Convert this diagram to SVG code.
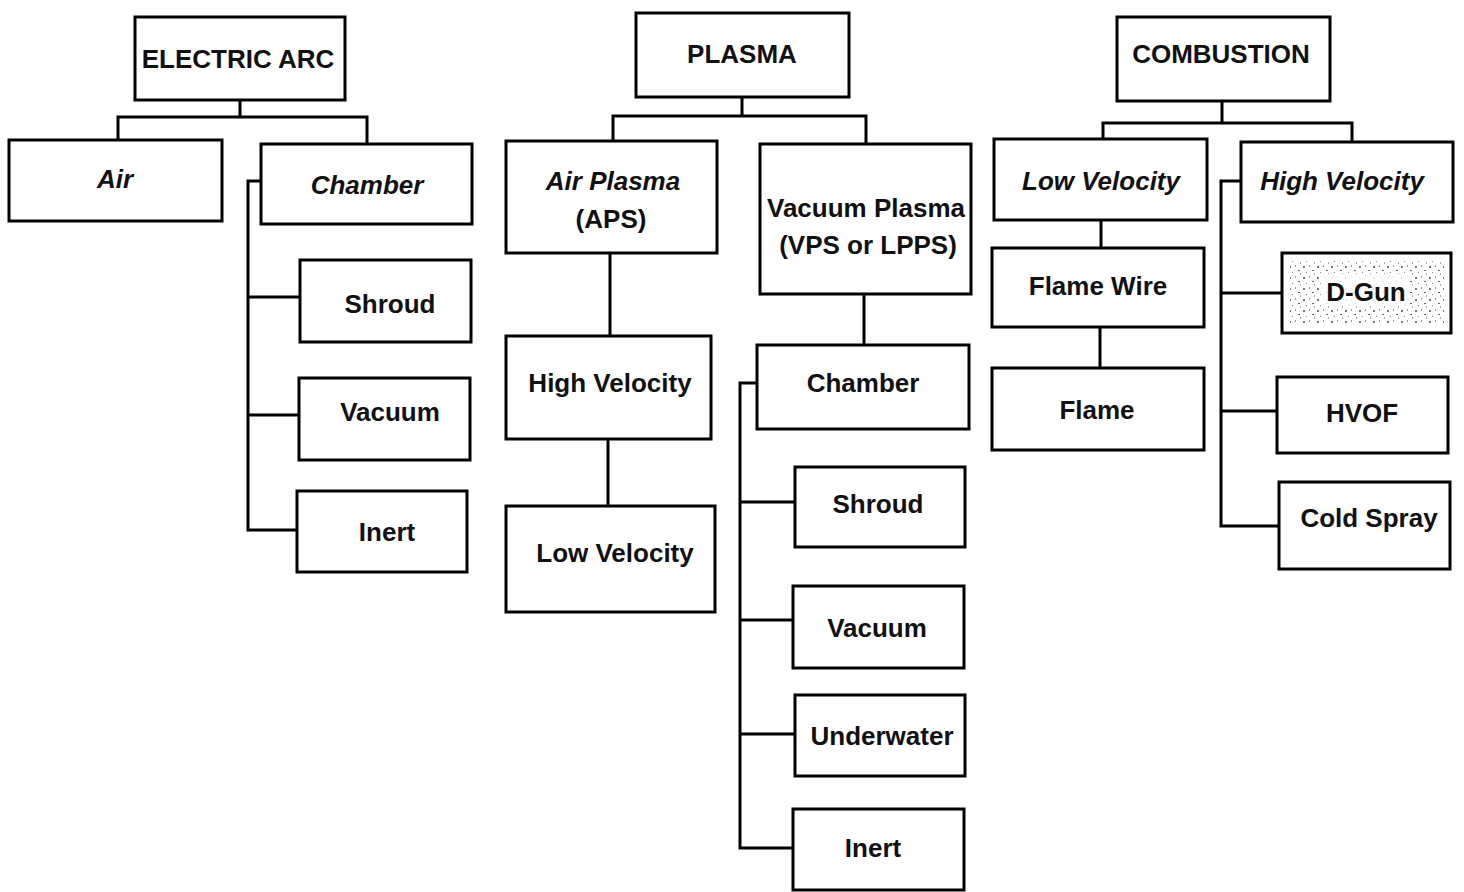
<svg xmlns="http://www.w3.org/2000/svg" width="1464" height="892" viewBox="0 0 1464 892">
<style>
.box{fill:#fff;stroke:#000;stroke-width:3}
.t{font-family:"Liberation Sans",Arial,sans-serif;font-weight:bold;font-size:26px;text-anchor:middle;fill:#111}
.i{font-style:italic}
.c{fill:none;stroke:#000;stroke-width:3}
</style>
<defs>
<pattern id="speck" width="14" height="11" patternUnits="userSpaceOnUse">
<rect x="1" y="2" width="2" height="2" fill="#777"/>
<rect x="7" y="1" width="1" height="2" fill="#999"/>
<rect x="10" y="6" width="2" height="1" fill="#666"/>
<rect x="4" y="8" width="1" height="1" fill="#888"/>
<rect x="12" y="9" width="1" height="2" fill="#aaa"/>
</pattern>
</defs>
<rect width="1464" height="892" fill="#fff"/>
<g id="connectors">
<path class="c" d="M240 100V117M118 140V117H367V144"/>
<path class="c" d="M261 181H248V530H297M248 297H300M248 415H299"/>
<path class="c" d="M742 97V116M613 141V116H866V144"/>
<path class="c" d="M610 253V336M608 439V506M864 294V345"/>
<path class="c" d="M757 383H740V848H793M740 502H795M740 620H793M740 734H795"/>
<path class="c" d="M1222 101V123M1103 139V123H1352V142"/>
<path class="c" d="M1101 220V248M1100 327V368"/>
<path class="c" d="M1241 181H1221V526H1279M1221 293H1282M1221 411H1277"/>
</g>
<g id="electric-arc"><rect class="box" x="135" y="17" width="210" height="83"/><text class="t" x="238" y="68">ELECTRIC ARC</text></g>
<g id="ea-air"><rect class="box" x="9" y="140" width="213" height="81"/><text class="t i" x="115" y="188">Air</text></g>
<g id="ea-chamber"><rect class="box" x="261" y="144" width="211" height="80"/><text class="t i" x="367" y="194">Chamber</text></g>
<g id="ea-shroud"><rect class="box" x="300" y="260" width="171" height="82"/><text class="t" x="390" y="313">Shroud</text></g>
<g id="ea-vacuum"><rect class="box" x="299" y="378" width="171" height="82"/><text class="t" x="390" y="421">Vacuum</text></g>
<g id="ea-inert"><rect class="box" x="297" y="491" width="170" height="81"/><text class="t" x="387" y="541">Inert</text></g>

<g id="plasma"><rect class="box" x="636" y="13" width="213" height="84"/><text class="t" x="742" y="63">PLASMA</text></g>
<g id="air-plasma"><rect class="box" x="506" y="141" width="211" height="112"/><text class="t i" x="613" y="190">Air Plasma</text><text class="t" x="611" y="228">(APS)</text></g>
<g id="vacuum-plasma"><rect class="box" x="760" y="144" width="211" height="150"/><text class="t" x="866" y="217">Vacuum Plasma</text><text class="t" x="868" y="254">(VPS or LPPS)</text></g>
<g id="pl-high-velocity"><rect class="box" x="506" y="336" width="205" height="103"/><text class="t" x="610" y="392">High Velocity</text></g>
<g id="pl-low-velocity"><rect class="box" x="506" y="506" width="209" height="106"/><text class="t" x="615" y="562">Low Velocity</text></g>
<g id="pl-chamber"><rect class="box" x="757" y="345" width="212" height="84"/><text class="t" x="863" y="392">Chamber</text></g>
<g id="pl-shroud"><rect class="box" x="795" y="467" width="170" height="80"/><text class="t" x="878" y="513">Shroud</text></g>
<g id="pl-vacuum"><rect class="box" x="793" y="586" width="171" height="82"/><text class="t" x="877" y="637">Vacuum</text></g>
<g id="pl-underwater"><rect class="box" x="795" y="695" width="170" height="81"/><text class="t" x="882" y="745">Underwater</text></g>
<g id="pl-inert"><rect class="box" x="793" y="809" width="171" height="81"/><text class="t" x="873" y="857">Inert</text></g>

<g id="combustion"><rect class="box" x="1117" y="17" width="213" height="84"/><text class="t" x="1221" y="63">COMBUSTION</text></g>
<g id="co-low-velocity"><rect class="box" x="994" y="139" width="213" height="81"/><text class="t i" x="1101" y="190">Low Velocity</text></g>
<g id="co-high-velocity"><rect class="box" x="1241" y="142" width="212" height="80"/><text class="t i" x="1342" y="190">High Velocity</text></g>
<g id="flame-wire"><rect class="box" x="992" y="248" width="212" height="79"/><text class="t" x="1098" y="295">Flame Wire</text></g>
<g id="flame"><rect class="box" x="992" y="368" width="212" height="82"/><text class="t" x="1097" y="419">Flame</text></g>
<g id="d-gun"><rect class="box" x="1282" y="253" width="169" height="80"/><rect x="1290" y="261" width="154" height="64" fill="url(#speck)"/><rect x="1322" y="274" width="88" height="32" fill="#fff" opacity="0.85"/><text class="t" x="1366" y="301">D-Gun</text></g>
<g id="hvof"><rect class="box" x="1277" y="377" width="171" height="76"/><text class="t" x="1362" y="422">HVOF</text></g>
<g id="cold-spray"><rect class="box" x="1279" y="482" width="171" height="87"/><text class="t" x="1369" y="527">Cold Spray</text></g>
</svg>
